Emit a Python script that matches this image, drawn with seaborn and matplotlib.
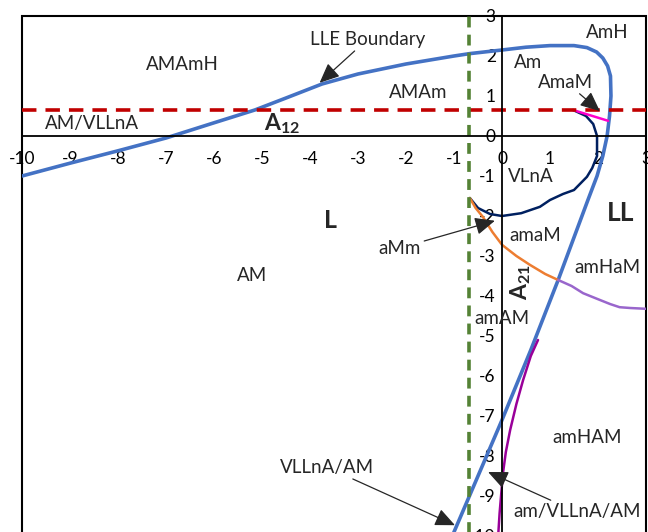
import matplotlib
matplotlib.use('Agg')
import matplotlib.pyplot as plt
import seaborn as sns
from matplotlib.patches import Rectangle

# Curve data
lle_x = [-10, -9, -8, -7, -6, -5.15, -4.5, -3.75, -3, -2, -1, -0.67, 0, 0.5, 1.0, 1.5, 1.77, 1.97, 2.1,
         2.2, 2.26, 2.27, 2.24, 2.19, 2.1, 1.98, 1.79, 1.48, 1.17, 0.6, 0, -0.5, -1.0, -1.05]
lle_y = [-1.0, -0.68, -0.37, -0.05, 0.33, 0.65, 0.95, 1.3, 1.55, 1.8, 2.0, 2.06, 2.15, 2.22, 2.26, 2.26, 2.21, 2.1, 1.95,
         1.75, 1.5, 1.0, 0.5, 0.0, -0.5, -1.0, -1.6, -2.6, -3.6, -5.35, -7.1, -8.5, -9.9, -10.05]

navy_x = [1.48, 1.75, 1.9, 1.98, 1.98, 1.88, 1.77, 1.5, 1.27, 1.0, 0.79, 0.4, 0, -0.25, -0.5, -0.67]
navy_y = [0.65, 0.5, 0.3, 0.0, -0.5, -0.8, -1.02, -1.35, -1.45, -1.6, -1.77, -1.93, -2.0, -1.95, -1.8, -1.55]

orange_x = [-0.67, -0.55, -0.4, -0.2, 0, 0.3, 0.58, 0.9, 1.17]
orange_y = [-1.55, -1.8, -2.02, -2.4, -2.72, -3.0, -3.22, -3.45, -3.6]

lilac_x = [1.17, 1.45, 1.69, 2.0, 2.25, 2.45, 2.67, 3.0]
lilac_y = [-3.6, -3.75, -3.93, -4.08, -4.2, -4.28, -4.3, -4.32]

plum_x = [0.75, 0.6, 0.44, 0.3, 0.17, 0.08, 0.02, -0.02, -0.05, -0.08]
plum_y = [-5.1, -5.5, -6.1, -6.7, -7.35, -7.9, -8.43, -9.0, -9.43, -10.0]

pink_x = [1.48, 2.21]
pink_y = [0.65, 0.38]

a12_level = 0.65    # red dashed line
a21_level = -0.68   # green dashed line

x_ticks = list(range(-10, 4))
y_ticks = list(range(-10, 4))

sns.set_style('white')
plt.rcParams['font.family'] = ['Lato', 'DejaVu Sans']
plt.rcParams['mathtext.fontset'] = 'custom'
plt.rcParams['mathtext.rm'] = 'Lato'
plt.rcParams['mathtext.bf'] = 'Lato:bold'

fig = plt.figure(figsize=(6.48, 5.32), dpi=100)
ax = fig.add_axes([22 / 648, -4 / 532, 624 / 648, 520 / 532])

# Curves
sns.lineplot(x=lle_x, y=lle_y, sort=False, estimator=None, color='#4472C4', linewidth=2.6, ax=ax)
sns.lineplot(x=navy_x, y=navy_y, sort=False, estimator=None, color='#002060', linewidth=1.8, ax=ax)
sns.lineplot(x=orange_x, y=orange_y, sort=False, estimator=None, color='#ED7D31', linewidth=1.8, ax=ax)
sns.lineplot(x=lilac_x, y=lilac_y, sort=False, estimator=None, color='#9966CC', linewidth=1.8, ax=ax)
sns.lineplot(x=plum_x, y=plum_y, sort=False, estimator=None, color='#990099', linewidth=1.8, ax=ax)
sns.lineplot(x=pink_x, y=pink_y, sort=False, estimator=None, color='#FF00CC', linewidth=1.8, ax=ax)

# Dashed boundaries
ax.axhline(a12_level, color='#C00000', linestyle=(0, (4, 2.5)), linewidth=2.6)
ax.axvline(a21_level, color='#548235', linestyle=(0, (3, 2)), linewidth=2.6)

ax.set_xlim(-10, 3)
ax.set_ylim(-10, 3)

# Axes crossing at the origin, with a box around the plot
ax.spines['left'].set_position(('data', 0))
ax.spines['bottom'].set_position(('data', 0))
ax.spines['top'].set_visible(False)
ax.spines['right'].set_visible(False)
for side in ['left', 'bottom']:
    ax.spines[side].set_linewidth(1.3)
    ax.spines[side].set_color('black')
ax.add_patch(Rectangle((0, 0), 1, 1, transform=ax.transAxes, fill=False,
                       edgecolor='black', linewidth=1.5, clip_on=False))

ax.set_xticks(x_ticks)
ax.set_yticks(y_ticks)
ax.set_xticklabels([str(t) for t in x_ticks])
ax.set_yticklabels([str(t) for t in y_ticks])
ax.tick_params(direction='inout', length=9, width=1.3, labelsize=12.5, colors='black')
ax.tick_params(axis='x', pad=6)
ax.tick_params(axis='y', pad=0)

# Region labels
labels = [
    ('AMAmH', -6.65, 1.78), ('AMAm', -1.75, 1.08), ('AM/VLLnA', -8.54, 0.3),
    ('AmH', 2.2, 2.6), ('Am', 0.54, 1.85), ('VLnA', 0.6, -1.0),
    ('amaM', 0.69, -2.48), ('AM', -5.2, -3.48), ('amHaM', 2.2, -3.28),
    ('amAM', 0.0, -4.55), ('amHAM', 1.77, -7.53),
]
for text, x, y in labels:
    ax.text(x, y, text, ha='center', va='center', fontsize=13.5)

ax.text(-3.58, -2.1, 'L', ha='center', va='center', fontsize=18, fontweight='bold')
ax.text(2.48, -1.93, 'LL', ha='center', va='center', fontsize=19, fontweight='bold')
ax.text(-4.58, 0.3, r'$\mathbf{A_{12}}$', ha='center', va='center', fontsize=16.5)
ax.text(0.38, -3.65, r'$\mathbf{A_{21}}$', ha='center', va='center', fontsize=16.5, rotation=90)

# Labels with arrows
arrow = dict(arrowstyle='-|>,head_length=0.9,head_width=0.4', color='#262626', lw=0.9, shrinkA=0, shrinkB=0)
ax.annotate('LLE Boundary', xy=(-3.8, 1.33), xytext=(-2.8, 2.42), ha='center', va='center',
            fontsize=13.5, arrowprops=arrow)
ax.annotate('AmaM', xy=(2.04, 0.62), xytext=(1.33, 1.35), ha='center', va='center',
            fontsize=13.5, arrowprops=arrow)
ax.annotate('aMm', xy=(-0.15, -2.12), xytext=(-2.13, -2.8), ha='center', va='center',
            fontsize=13.5, arrowprops=arrow)
ax.annotate('VLLnA/AM', xy=(-0.98, -9.73), xytext=(-3.65, -8.28), ha='center', va='center',
            fontsize=13.5, arrowprops=arrow)
ax.annotate('am/VLLnA/AM', xy=(-0.29, -8.4), xytext=(1.56, -9.4), ha='center', va='center',
            fontsize=13.5, arrowprops=arrow)

plt.savefig('out.png', dpi=100)
